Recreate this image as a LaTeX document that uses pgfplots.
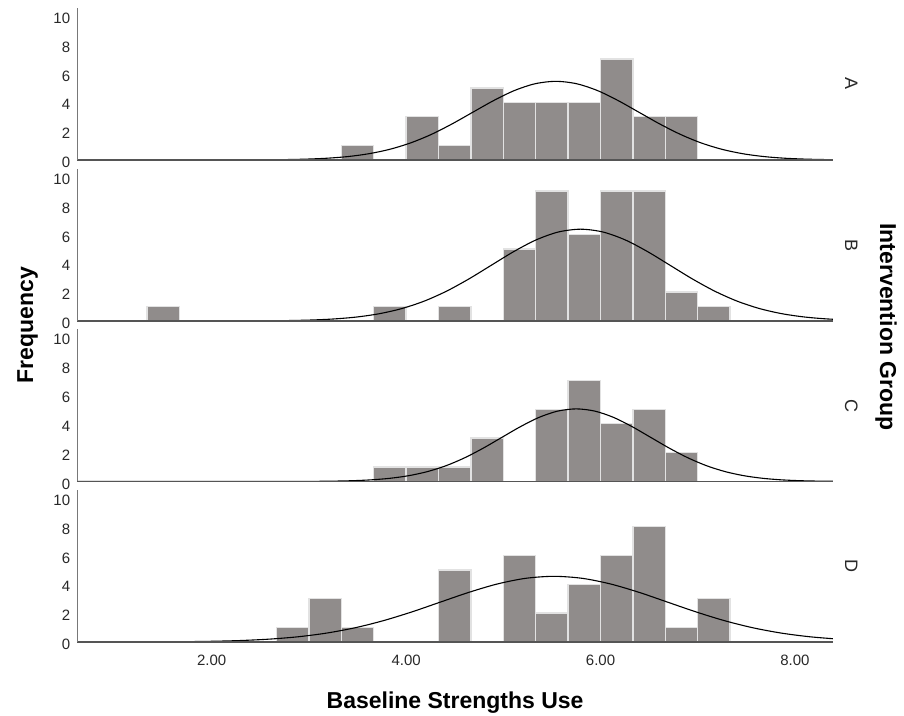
\documentclass[border=0pt]{standalone}
\usepackage{pgfplots}
\pgfplotsset{compat=1.18}
\usepackage{fontspec}
\setmainfont{Liberation Sans}

\definecolor{barfill}{RGB}{144,140,139}
\definecolor{barsep}{RGB}{226,226,226}
\definecolor{xline}{RGB}{85,85,85}
\definecolor{yline}{RGB}{120,120,120}
\definecolor{ticktext}{RGB}{40,40,40}

\pgfplotsset{
  panel/.style={
    scale only axis, width=755.6pt, height=152pt,
    anchor=south west,
    xmin=0.617, xmax=8.39, ymin=0, ymax=10.53,
    axis x line=bottom, axis y line=left,
    x axis line style={-, draw=xline, line width=1.5pt},
    y axis line style={-, draw=yline, line width=1.3pt},
    major tick length=0pt,
    tick style={draw=none},
    ytick={0,2,4,6,8,10},
    yticklabels={0,2,4,6,8,10},
    yticklabel style={font=\fontsize{15}{18}\selectfont, text=ticktext,
      anchor=east, inner sep=0pt, xshift=-7pt, yshift=-2.5pt},
    xtick={2,4,6,8},
    xticklabels={,,,},
    axis on top,
  },
  hist/.style={ybar, bar width=0.3333, bar shift=0pt, fill=barfill,
    draw=barsep, line width=1.4pt},
  fit/.style={black, line width=1.1pt, smooth, mark=none},
}

\begin{document}
\begin{tikzpicture}
\useasboundingbox (0pt,0pt) rectangle (904pt,715pt);

% Group A
\begin{axis}[panel, at={(77.3pt,555pt)}]
\addplot[hist] coordinates {(3.5,1) (4.1667,3) (4.5,1) (4.8333,5) (5.1667,4)
  (5.5,4) (5.8333,4) (6.1667,7) (6.5,3) (6.8333,3)};
\addplot[fit] coordinates {(0.617,0) (2.12,0.002) (2.334,0.005) (2.548,0.012)
  (2.761,0.028) (2.975,0.061) (3.189,0.124) (3.403,0.239) (3.616,0.434)
  (3.83,0.738) (4.044,1.179) (4.258,1.769) (4.471,2.495) (4.685,3.306)
  (4.899,4.114) (5.113,4.810) (5.326,5.282) (5.54,5.450) (5.754,5.282)
  (5.968,4.810) (6.181,4.114) (6.395,3.306) (6.609,2.495) (6.823,1.769)
  (7.036,1.179) (7.25,0.738) (7.464,0.434) (7.678,0.239) (7.891,0.124)
  (8.105,0.061) (8.319,0.028) (8.533,0.012)};
\end{axis}

% Group B
\begin{axis}[panel, at={(77.3pt,394pt)}]
\addplot[hist] coordinates {(1.5,1) (3.8333,1) (4.5,1) (5.1667,5) (5.5,9)
  (5.8333,6) (6.1667,9) (6.5,9) (6.8333,2) (7.1667,1)};
\addplot[fit] coordinates {(0.617,0) (2.115,0.002) (2.345,0.006) (2.575,0.014)
  (2.805,0.032) (3.035,0.071) (3.265,0.145) (3.495,0.279) (3.725,0.506)
  (3.955,0.861) (4.185,1.375) (4.415,2.065) (4.645,2.912) (4.875,3.858)
  (5.105,4.801) (5.335,5.613) (5.565,6.164) (5.795,6.360) (6.025,6.164)
  (6.255,5.613) (6.485,4.801) (6.715,3.858) (6.945,2.912) (7.175,2.065)
  (7.405,1.375) (7.635,0.861) (7.865,0.506) (8.095,0.279) (8.325,0.145)
  (8.555,0.071)};
\end{axis}

% Group C
\begin{axis}[panel, at={(77.3pt,233.5pt)}]
\addplot[hist] coordinates {(3.8333,1) (4.1667,1) (4.5,1) (4.8333,3) (5.5,5)
  (5.8333,7) (6.1667,4) (6.5,5) (6.8333,2)};
\addplot[fit] coordinates {(0.617,0) (2.682,0.002) (2.874,0.004) (3.065,0.011)
  (3.257,0.026) (3.449,0.056) (3.641,0.115) (3.832,0.221) (4.024,0.400)
  (4.216,0.681) (4.408,1.088) (4.599,1.633) (4.791,2.303) (4.983,3.051)
  (5.175,3.797) (5.366,4.439) (5.558,4.875) (5.75,5.030) (5.942,4.875)
  (6.134,4.439) (6.325,3.797) (6.517,3.051) (6.709,2.303) (6.901,1.633)
  (7.092,1.088) (7.284,0.681) (7.476,0.400) (7.668,0.221) (7.859,0.115)
  (8.051,0.056) (8.243,0.026) (8.435,0.011)};
\end{axis}

% Group D
\begin{axis}[panel, at={(77.3pt,73pt)},
  xticklabels={2.00,4.00,6.00,8.00},
  xticklabel style={font=\fontsize{15}{18}\selectfont, text=ticktext,
    anchor=north, inner sep=0pt, yshift=-13pt}]
\addplot[hist] coordinates {(2.8333,1) (3.1667,3) (3.5,1) (4.5,5) (5.1667,6)
  (5.5,2) (5.8333,4) (6.1667,6) (6.5,8) (6.8333,1) (7.1667,3)};
\addplot[fit] coordinates {(0.617,0.001) (0.84,0.002) (1.133,0.004) (1.425,0.010)
  (1.718,0.023) (2.01,0.051) (2.303,0.104) (2.595,0.200) (2.888,0.362)
  (3.18,0.616) (3.473,0.984) (3.765,1.477) (4.058,2.083) (4.35,2.760)
  (4.643,3.435) (4.935,4.015) (5.228,4.410) (5.52,4.550) (5.813,4.410)
  (6.105,4.015) (6.398,3.435) (6.69,2.760) (6.983,2.083) (7.275,1.477)
  (7.568,0.984) (7.86,0.616) (8.153,0.362) (8.445,0.200)};
\end{axis}

% titles and group labels
\node[anchor=base, font=\fontsize{23}{27}\selectfont\bfseries]
  at (455.1pt,6.7pt) {Baseline Strengths Use};
\node[rotate=90, anchor=base, font=\fontsize{23}{27}\selectfont\bfseries]
  at (33pt,390pt) {Frequency};
\node[rotate=-90, anchor=base, font=\fontsize{23}{27}\selectfont\bfseries]
  at (880pt,388pt) {Intervention Group};
\foreach \g/\yy in {A/631, B/469.5, C/309, D/149}
  \node[rotate=-90, anchor=base, font=\fontsize{18}{21}\selectfont, text=ticktext]
    at (845pt,\yy pt) {\g};
\end{tikzpicture}
\end{document}
